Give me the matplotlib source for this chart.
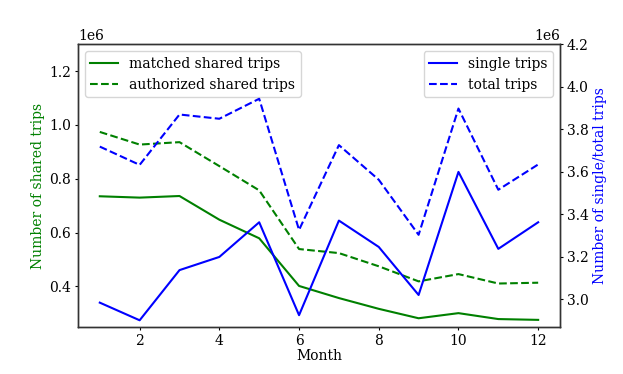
import matplotlib
matplotlib.use("Agg")
import matplotlib.pyplot as plt

plt.rcParams["font.family"] = "DejaVu Serif"
plt.rcParams["font.size"] = 10
plt.rcParams["axes.edgecolor"] = "0.2"
plt.rcParams["axes.linewidth"] = 1.0
plt.rcParams["xtick.major.size"] = 2.5
plt.rcParams["ytick.major.size"] = 2.5
plt.rcParams["xtick.major.pad"] = 2.5
plt.rcParams["ytick.major.pad"] = 2.5

months = list(range(1, 13))

# shared trips (left axis)
matched_shared = [0.735e6, 0.730e6, 0.736e6, 0.648e6, 0.579e6, 0.402e6,
                  0.357e6, 0.317e6, 0.282e6, 0.301e6, 0.279e6, 0.276e6]
authorized_shared = [0.974e6, 0.927e6, 0.936e6, 0.847e6, 0.757e6, 0.539e6,
                     0.524e6, 0.475e6, 0.419e6, 0.446e6, 0.411e6, 0.414e6]

# single / total trips (right axis)
single_trips = [2.984e6, 2.901e6, 3.137e6, 3.199e6, 3.362e6, 2.925e6,
                3.370e6, 3.246e6, 3.020e6, 3.599e6, 3.237e6, 3.362e6]
total_trips = [3.718e6, 3.632e6, 3.869e6, 3.849e6, 3.943e6, 3.326e6,
               3.725e6, 3.562e6, 3.303e6, 3.897e6, 3.515e6, 3.634e6]

fig, ax1 = plt.subplots(figsize=(6.23, 3.74), dpi=100)
fig.subplots_adjust(left=0.125, right=0.899, bottom=0.126, top=0.882)

ax1.plot(months, matched_shared, "g-", label="matched shared trips")
ax1.plot(months, authorized_shared, "g--", label="authorized shared trips")
ax1.set_ylim(0.25e6, 1.30e6)
ax1.set_xlabel("Month", labelpad=1)
ax1.set_ylabel("Number of shared trips", color="g", labelpad=3)
ax1.legend(loc="upper left")

ax2 = ax1.twinx()
ax2.plot(months, single_trips, "b-", label="single trips")
ax2.plot(months, total_trips, "b--", label="total trips")
ax2.set_ylim(2.87e6, 4.2e6)
ax2.set_ylabel("Number of single/total trips", color="b", labelpad=3)
ax2.legend(loc="upper right")

plt.savefig("out.png", dpi=100)
plt.close()
